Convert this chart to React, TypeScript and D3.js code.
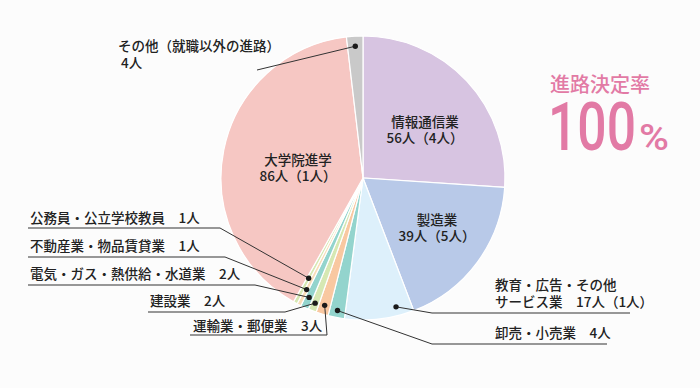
import React, { useEffect, useRef } from 'react';
import * as d3 from 'd3';

// values (clockwise from 12 o'clock)
const categories = [
  '情報通信業',
  '製造業',
  '教育・広告・その他サービス業',
  '卸売・小売業',
  '運輸業・郵便業',
  '建設業',
  '電気・ガス・熱供給・水道業',
  '不動産業・物品賃貸業',
  '公務員・公立学校教員',
  '大学院進学',
  'その他（就職以外の進路）',
];
const counts = [56, 39, 17, 4, 3, 2, 2, 1, 1, 86, 4];
const inner = ['4人', '5人', '1人', '', '', '', '', '', '', '1人', ''];
const sliceColors = [
  '#d7c4e1', '#b8c9e8', '#ddf0fb', '#93d4cd', '#f9c8a1', '#d6e8b3',
  '#93d4cd', '#f8ddb8', '#d6e8b3', '#f6c7c3', '#c9c9c9',
];

const FONT = "'Noto Sans CJK JP', 'Noto Sans', sans-serif";

function App() {
  const ref = useRef<HTMLDivElement>(null);
  const width = 700;
  const height = 388;
  const cx = 363;
  const cy = 178;
  const radius = 142;

  useEffect(() => {
    d3.select(ref.current).select('svg').remove();
    const svg = d3
      .select(ref.current)
      .append('svg')
      .attr('width', width)
      .attr('height', height)
      .style('display', 'block')
      .style('background', '#fcfcfc');

    const data = categories.map((name, i) => ({ name, value: counts[i], i }));
    const pie = d3.pie<any>().value((d) => d.value).sort(null);
    const arcs = pie(data);
    const arc = d3.arc<any>().innerRadius(0).outerRadius(radius);

    const g = svg.append('g').attr('transform', `translate(${cx},${cy})`);
    g.selectAll('path')
      .data(arcs)
      .enter()
      .append('path')
      .attr('d', arc)
      .attr('fill', (d) => sliceColors[d.data.i])
      .attr('stroke', '#ffffff')
      .attr('stroke-width', 1.2);

    // point inside a slice: t = fraction across the slice, r = distance from centre
    const inside = (i: number, t: number, r: number) => {
      const a = arcs[i].startAngle + (arcs[i].endAngle - arcs[i].startAngle) * t;
      return [cx + r * Math.sin(a), cy - r * Math.cos(a)];
    };

    // labels inside the big slices
    const innerLabels = [
      { i: 0, x: 425, y: 127 },
      { i: 1, x: 437, y: 225 },
      { i: 9, x: 298, y: 165 },
    ];
    innerLabels.forEach((l) => {
      const t = svg
        .append('text')
        .attr('text-anchor', 'middle')
        .style('font-family', FONT)
        .style('font-size', '13.5px')
        .style('font-weight', 500)
        .attr('fill', '#222');
      t.append('tspan').attr('x', l.x).attr('y', l.y).text(categories[l.i]);
      t.append('tspan')
        .attr('x', l.x)
        .attr('y', l.y + 16)
        .text(`${counts[l.i]}人（${inner[l.i]}）`);
    });

    // leader lines for the small slices
    const leaders = [
      { i: 8, t: 0.5, r: 114, pts: [[220, 228], [28, 228]], tx: 30, ty: 223, lines: ['公務員・公立学校教員　1人'] },
      { i: 7, t: 0.5, r: 125, pts: [[225, 257], [28, 257]], tx: 30, ty: 251, lines: ['不動産業・物品賃貸業　1人'] },
      { i: 6, t: 0.5, r: 131, pts: [[255, 285], [28, 285]], tx: 30, ty: 279, lines: ['電気・ガス・熱供給・水道業　2人'] },
      { i: 5, t: 0.5, r: 134, pts: [[285, 312], [148, 312]], tx: 150, ty: 306, lines: ['建設業　2人'] },
      { i: 4, t: 0.5, r: 133, pts: [[327, 335], [190, 335]], tx: 193, ty: 331, lines: ['運輸業・郵便業　3人'] },
      { i: 3, t: 0.5, r: 135, pts: [[432, 344], [607, 344]], tx: 495, ty: 338, lines: ['卸売・小売業　4人'] },
      { i: 2, t: 0.23, r: 133, pts: [[432, 313], [630, 313]], tx: 495, ty: 290, lines: ['教育・広告・その他', 'サービス業　17人（1人）'] },
      { i: 10, t: 0.5, r: 132, pts: [[257, 70]], tx: 118, ty: 51, lines: ['その他（就職以外の進路）', ' 4人'] },
    ];

    const line = d3.line();
    leaders.forEach((l) => {
      const dot = inside(l.i, l.t, l.r) as [number, number];
      svg
        .append('path')
        .attr('d', line([dot, ...(l.pts as [number, number][])]))
        .attr('fill', 'none')
        .attr('stroke', '#333')
        .attr('stroke-width', 1);
      svg
        .append('circle')
        .attr('cx', dot[0])
        .attr('cy', dot[1])
        .attr('r', 2.7)
        .attr('fill', '#1a1a1a');
      const t = svg
        .append('text')
        .style('font-family', FONT)
        .style('font-size', '13.5px')
        .style('font-weight', 500)
        .attr('fill', '#222');
      l.lines.forEach((s, k) => {
        t.append('tspan').attr('x', l.tx).attr('y', l.ty + k * 17).text(s);
      });
    });

    // headline on the right
    svg
      .append('text')
      .attr('x', 550)
      .attr('y', 92)
      .style('font-family', FONT)
      .style('font-size', '20px')
      .style('font-weight', 500)
      .attr('fill', '#e27aa5')
      .text('進路決定率');
    svg
      .append('text')
      .attr('x', 548)
      .attr('y', 150)
      .attr('textLength', 88)
      .attr('lengthAdjust', 'spacingAndGlyphs')
      .style('font-family', 'Roboto, sans-serif')
      .style('font-size', '66px')
      .style('font-weight', 500)
      .attr('fill', '#e27aa5')
      .text('100');
    svg
      .append('text')
      .attr('x', 639)
      .attr('y', 150)
      .attr('textLength', 30)
      .attr('lengthAdjust', 'spacingAndGlyphs')
      .style('font-family', 'Roboto, sans-serif')
      .style('font-size', '37px')
      .style('font-weight', 500)
      .attr('fill', '#e27aa5')
      .text('%');

    return () => {
      d3.select(ref.current).select('svg').remove();
    };
  }, []);

  return (
    <div
      ref={ref}
      style={{ position: 'absolute', left: 0, top: 0, width: '700px', height: '388px' }}
    ></div>
  );
}

export default App;
